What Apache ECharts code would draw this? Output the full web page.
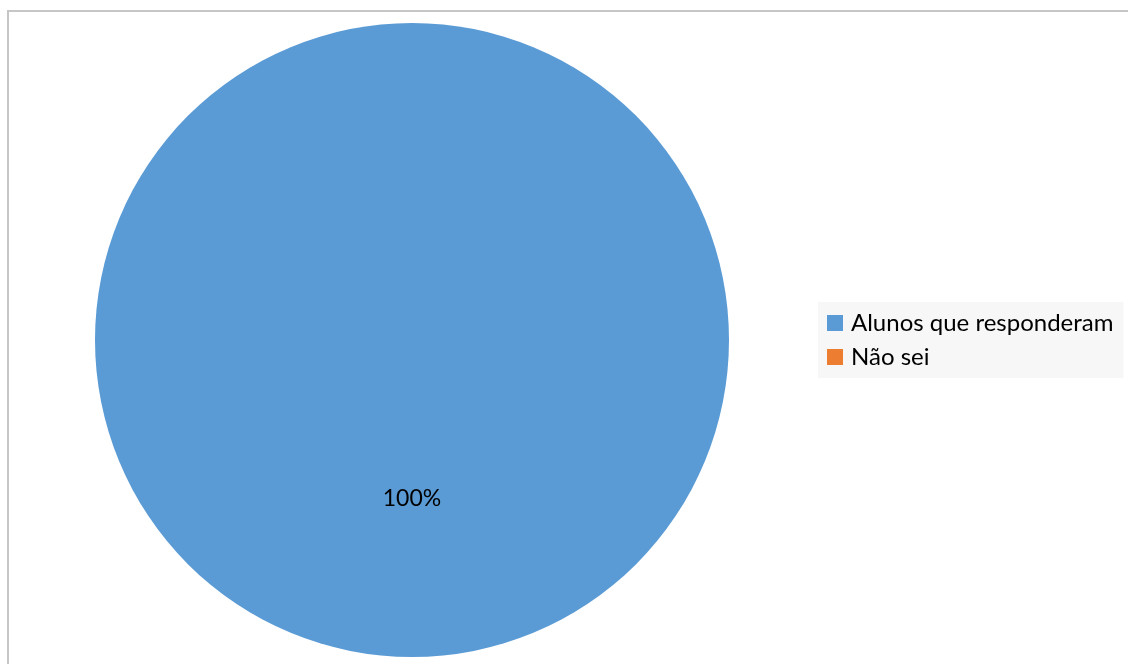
<!DOCTYPE html>
<html>
<head>
<meta charset="utf-8">
<script src="https://cdn.jsdelivr.net/npm/echarts@6/dist/echarts.min.js"></script>
<style>
  html, body { margin: 0; padding: 0; background: #ffffff; }
  #chart { width: 1128px; height: 664px; }
</style>
</head>
<body>
<div id="chart"></div>
<script>
// Survey answers
const categories = ['Alunos que responderam', 'Não sei'];
const values = [100, 0];
const colors = ['#5b9bd5', '#ed7d31'];

const chart = echarts.init(document.getElementById('chart'), null, { renderer: 'canvas' });

const pieData = categories.map((name, i) => ({
  name: name,
  value: values[i],
  itemStyle: { color: colors[i] }
}));

chart.setOption({
  backgroundColor: '#ffffff',
  animation: false,
  graphic: [{
    type: 'polyline',
    shape: { points: [[8, 664], [8, 11], [1128, 11]] },
    style: { stroke: '#c6c6c6', lineWidth: 2, fill: null },
    silent: true
  }],
  legend: {
    orient: 'vertical',
    left: 818,
    top: 302,
    backgroundColor: '#f7f7f7',
    padding: [9, 10, 9, 9],
    itemGap: 10,
    itemWidth: 16,
    itemHeight: 16,
    icon: 'rect',
    data: categories,
    textStyle: {
      fontFamily: 'Lato',
      fontSize: 24,
      color: '#000000',
      lineHeight: 22,
      padding: [0, 0, 0, 3]
    }
  },
  series: [{
    type: 'pie',
    center: [412, 340],
    radius: [0, 317],
    startAngle: 90,
    clockwise: true,
    data: pieData,
    label: {
      show: true,
      position: 'inside',
      fontFamily: 'Lato',
      fontSize: 23,
      color: '#000000',
      offset: [0, -3],
      formatter: p => (p.value > 0 ? Math.round(p.percent) + '%' : '')
    },
    labelLine: { show: false },
    itemStyle: { borderWidth: 0 },
    emphasis: { disabled: true }
  }]
});
</script>
</body>
</html>
